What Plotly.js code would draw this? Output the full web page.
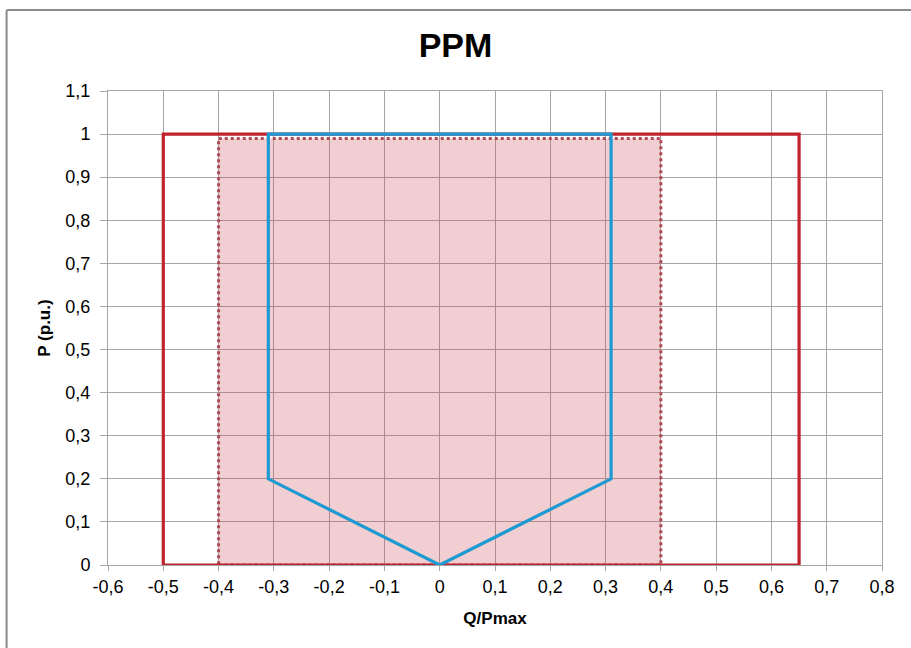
<!DOCTYPE html>
<html>
<head>
<meta charset="utf-8">
<script src="https://cdn.plot.ly/plotly-3.0.1.min.js"></script>
<style>
html,body{margin:0;padding:0;background:#fff;}
#chart{width:911px;height:648px;}
</style>
</head>
<body>
<div id="chart"></div>
<script>
// Outer red rectangle (solid)
const outerQ = [-0.5, 0.65, 0.65, -0.5, -0.5];
const outerP = [0, 0, 1, 1, 0];
// Shaded dotted rectangle
const shadeQ = [-0.4, 0.4, 0.4, -0.4, -0.4];
const shadeP = [0, 0, 0.99, 0.99, 0];
// Blue PPM envelope
const ppmQ = [0, 0.31, 0.31, -0.31, -0.31, 0];
const ppmP = [0, 0.2, 1, 1, 0.2, 0];

const xTickVals = [-0.6,-0.5,-0.4,-0.3,-0.2,-0.1,0,0.1,0.2,0.3,0.4,0.5,0.6,0.7,0.8];
const xTickText = ["-0,6","-0,5","-0,4","-0,3","-0,2","-0,1","0","0,1","0,2","0,3","0,4","0,5","0,6","0,7","0,8"];
const yTickVals = [0,0.1,0.2,0.3,0.4,0.5,0.6,0.7,0.8,0.9,1,1.1];
const yTickText = ["0","0,1","0,2","0,3","0,4","0,5","0,6","0,7","0,8","0,9","1","1,1"];

const traces = [
  {x: shadeQ, y: shadeP, type:'scatter', mode:'lines', fill:'toself',
   fillcolor:'rgba(200,60,75,0.25)',
   line:{color:'#AD4A55', width:3, dash:'dot'}, hoverinfo:'skip'},
  {x: outerQ, y: outerP, type:'scatter', mode:'lines',
   line:{color:'#C0232C', width:3.2}, hoverinfo:'skip'},
  {x: ppmQ, y: ppmP, type:'scatter', mode:'lines',
   line:{color:'#1D9AD1', width:3.2}, hoverinfo:'skip'}
];

const FF = 'Liberation Sans, Arial, sans-serif';
const axisFont = {family:FF, size:18, color:'#000'};
const layout = {
  width:911, height:648,
  margin:{l:108, r:29, t:91, b:83},
  paper_bgcolor:'#fff', plot_bgcolor:'#fff',
  showlegend:false,
  title:{text:'<b>PPM</b>', x:0.5, xanchor:'center', y:0.93, yanchor:'middle',
         font:{family:FF, size:34, color:'#000'}},
  xaxis:{range:[-0.6,0.8], tickvals:xTickVals, ticktext:xTickText,
         showgrid:true, gridcolor:'#A6A6A6', gridwidth:1,
         zeroline:false, showline:true, linecolor:'#A6A6A6', linewidth:1, mirror:true,
         ticks:'outside', ticklen:5, tickcolor:'#A6A6A6',
         tickfont:axisFont,
         title:{text:'<b>Q/Pmax</b>', font:{family:FF, size:17, color:'#000'}, standoff:16}},
  yaxis:{range:[0,1.1], tickvals:yTickVals, ticktext:yTickText,
         showgrid:true, gridcolor:'#A6A6A6', gridwidth:1,
         zeroline:false, showline:true, linecolor:'#A6A6A6', linewidth:1, mirror:true,
         ticks:'outside', ticklen:7, tickcolor:'#A6A6A6', ticklabelstandoff:6,
         tickfont:axisFont,
         title:{text:'<b>P (p.u.)</b>', font:{family:FF, size:17, color:'#000'}, standoff:10}},
  shapes:[
    {type:'line', xref:'paper', yref:'paper', x0:-0.131, x1:1.05, y0:1.171, y1:1.171,
     line:{color:'#8C8C8C', width:2}},
    {type:'line', xref:'paper', yref:'paper', x0:-0.131, x1:-0.131, y0:1.171, y1:-0.2,
     line:{color:'#8C8C8C', width:2}}
  ]
};

Plotly.newPlot('chart', traces, layout, {displayModeBar:false, staticPlot:true});
</script>
</body>
</html>
